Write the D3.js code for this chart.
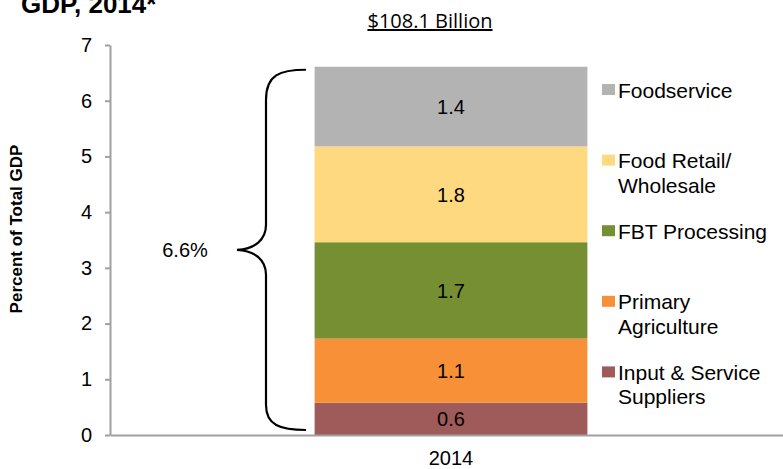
<!DOCTYPE html>
<html>
<head>
<meta charset="utf-8">
<script src="https://cdn.jsdelivr.net/npm/d3@7"></script>
<style>
  html, body { margin: 0; padding: 0; background: #fff; }
  svg { display: block; }
  text { font-family: "Liberation Sans", Arial, sans-serif; fill: #000; }
</style>
</head>
<body>
<svg id="chart" width="783" height="469"></svg>
<script>
// ---- data ----
const categories = ["2014"];
const seriesNames = ["Input & Service Suppliers", "Primary Agriculture", "FBT Processing", "Food Retail/Wholesale", "Foodservice"];
const seriesValues = [0.58, 1.15, 1.73, 1.72, 1.43];
const seriesLabels = ["0.6", "1.1", "1.7", "1.8", "1.4"];
const legendLines = [["Input & Service", "Suppliers"], ["Primary", "Agriculture"], ["FBT Processing"], ["Food Retail/", "Wholesale"], ["Foodservice"]];
const seriesColors = ["#9F5A5A", "#F79037", "#778F33", "#FFD97F", "#B3B3B3"];
const yTicks = [0, 1, 2, 3, 4, 5, 6, 7];
const totalLabel = "6.6%";
const title = "GDP, 2014*";
const subtitle = "$108.1 Billion";
const yTitle = "Percent of Total GDP";

// ---- chart ----
const svg = d3.select("#chart");
const y = d3.scaleLinear().domain([0, 7]).range([435, 45]);
const x = d3.scaleBand().domain(categories).range([110, 792]).paddingInner(0).paddingOuter(0.75);

// stacked segments
let acc = 0;
const stacked = seriesValues.map((v, i) => {
  const d = { name: seriesNames[i], y0: acc, y1: acc + v, label: seriesLabels[i], color: seriesColors[i] };
  acc += v;
  return d;
});
const total = acc;

svg.append("g").selectAll("rect").data(stacked).join("rect")
  .attr("x", x("2014"))
  .attr("width", x.bandwidth())
  .attr("y", d => y(d.y1))
  .attr("height", d => y(d.y0) - y(d.y1))
  .attr("fill", d => d.color);

svg.append("g").selectAll("text").data(stacked).join("text")
  .attr("x", x("2014") + x.bandwidth() / 2)
  .attr("y", d => (y(d.y0) + y(d.y1)) / 2)
  .attr("dy", "0.36em")
  .attr("text-anchor", "middle")
  .style("font-size", "20px")
  .text(d => d.label);

// axes
const axisColor = "#a0a0a0";
const yAxis = svg.append("g").attr("transform", "translate(110,0)")
  .call(d3.axisLeft(y).tickValues(yTicks).tickFormat(d3.format("d")).tickSize(5).tickSizeOuter(0).tickPadding(13));
const xAxis = svg.append("g").attr("transform", "translate(0,435)")
  .call(d3.axisBottom(x).tickSize(0).tickSizeOuter(0).tickPadding(16));
[yAxis, xAxis].forEach(g => {
  g.select(".domain").attr("stroke", axisColor).attr("stroke-width", 2);
  g.selectAll(".tick line").attr("stroke", axisColor).attr("stroke-width", 2);
  g.selectAll(".tick text").style("font-size", "20px").style("font-family", "'Liberation Sans', Arial, sans-serif").attr("fill", "#000");
});

// brace
const yTop = y(total) + 3, yBot = y(0) - 5, yMid = (yTop + yBot) / 2;
const bx = 266, tip = 237, ex = 306;
const p = d3.path();
p.moveTo(ex, yTop);
p.bezierCurveTo(280, yTop, bx, yTop + 5, bx, yTop + 30);
p.lineTo(bx, yMid - 25);
p.bezierCurveTo(bx, yMid - 10, bx - 11, yMid - 1, tip, yMid);
p.bezierCurveTo(bx - 11, yMid + 1, bx, yMid + 10, bx, yMid + 25);
p.lineTo(bx, yBot - 25);
p.bezierCurveTo(bx, yBot - 5, 280, yBot, ex, yBot);
svg.append("path").attr("d", p.toString()).attr("fill", "none").attr("stroke", "#000").attr("stroke-width", 2.2);

svg.append("text").attr("x", 185).attr("y", yMid + 7).attr("text-anchor", "middle")
  .style("font-size", "20px").text(totalLabel);

// legend (top to bottom: reverse stack order)
const legendOrder = d3.range(seriesNames.length).reverse();
const lg = svg.append("g");
legendOrder.forEach((si, k) => {
  const by = 97.5 + k * 70.6;
  lg.append("rect").attr("x", 602).attr("y", by - 13.5).attr("width", 13).attr("height", 11).attr("fill", seriesColors[si]);
  const t = lg.append("text").attr("x", 618).attr("y", by).style("font-size", "21px");
  legendLines[si].forEach((line, j) => {
    t.append("tspan").attr("x", 618).attr("y", by + j * 24.5).text(line);
  });
});

// titles
svg.append("text").attr("x", 21).attr("y", 13).style("font-size", "26px").style("font-weight", "bold").text(title);
svg.append("text").attr("x", 430).attr("y", 28).attr("text-anchor", "middle")
  .style("font-family", "'Open Sans', sans-serif").style("font-size", "20px")
  .style("text-decoration", "underline").text(subtitle);
svg.append("text").attr("transform", "translate(22,229) rotate(-90)").attr("text-anchor", "middle")
  .style("font-size", "17px").style("font-weight", "bold").text(yTitle);
</script>
</body>
</html>
